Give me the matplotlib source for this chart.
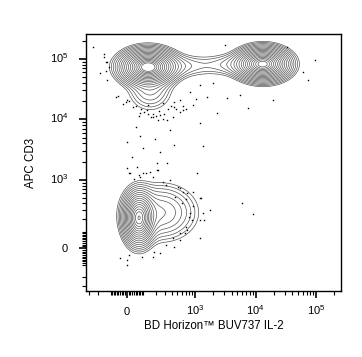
"""Flow cytometry contour plot: IL-2 vs CD3 on biexponential-like axes."""

import matplotlib

matplotlib.use("Agg")
import matplotlib.pyplot as plt  # noqa: E402
import matplotlib.transforms as mtransforms  # noqa: E402
import numpy as np  # noqa: E402

plt.rcParams["font.family"] = ["Liberation Sans", "DejaVu Sans"]
plt.rcParams["mathtext.default"] = "regular"

# arcsinh cofactor for the display scale
COFACTOR = 150.0

# axis ranges (data units)
X_RANGE = [-340, 2.57e5]
Y_RANGE = [-369, 2.57e5]

# population components: centre (data units), spread (arcsinh units), weight
# core + halo for each of the three populations
POP_X = [133, 380, 150, 13200, 5500, 70, 250]
POP_Y = [73000, 76000, 30000, 82000, 80000, 210, 270]
POP_SX = [0.50, 0.90, 0.45, 0.48, 0.80, 0.28, 0.70]
POP_SY = [0.32, 0.25, 0.42, 0.30, 0.24, 0.48, 0.55]
POP_W = [1.0, 0.06, 0.07, 0.95, 0.06, 0.80, 0.13]

# outlier events drawn as dots (data units)
DOT_X = [-252, -147, -125, -183, -125, -65, 0, 34, 77, 126, 173, 240, 327, 428,
         560, 620, 375, 222, 133, 277, 1200, 1560, 2290, 3350, 5520, 7450,
         19300, 32800, 60300, 95600, 73000, 1970, 820, 1200, 3120,
         0, 77, 52, 192, 428, 240, 97, 29, 58, 97, 147, 211, 327, 1070, 1340,
         17, 0, 211, 77,
         560, 730, 915, 1200, 820, 1200, 1770, 730, 560, 1200, 428, 240, 173,
         90, 0, 0, -40, 680, 880, 1340, 600, 455, 5950, 9000,
         -54, -24, -6, 13, 52, 83, 106, 131, 171, 200, 235, 292, 335, 382, 442,
         473, 545, 617, 697, 906, 1025, 413, 274, 156, 73,
         -146, -133, -108, -133,
         510, 617, 697, 906, 790, 697, 545, 413, 309, 13, 187, 1230, 1410,
         13, 42, 73, 117, 171, 218, 274, 367, 309]
DOT_Y = [156000, 120000, 88000, 58000, 45000, 23300, 20800, 16000, 12700, 14300,
         10900, 11800, 9700, 16000, 20800, 14300, 6700, 9700, 17300, 18600, 8600,
         23300, 12700, 22400, 25300, 15400, 20800, 156000, 60400, 95600, 45000,
         39700, 28300, 37000, 169000,
         4200, 5300, 7500, 4700, 3760, 2870, 3350, 2370, 1630, 1290, 1340, 1450,
         1890, 1290, 3600, 1290, 1560, 1890, 1110,
         740, 590, 620, 500, 265, 190, 295, 110, 46, 57, 6, -29, -52, -52, -71,
         -104, -59, 90, 190, 265, 410, 520, 410, 255,
         24700, 18000, 19100, 20300, 16800, 14800, 13000, 12300, 12500, 11500,
         13900, 12300, 14800, 16800, 19100, 14800, 13000, 16800, 14800, 17500,
         21600, 10800, 10100, 10800, 11500,
         106000, 87000, 72000, 63500,
         760, 625, 465, 360, 225, 135, 88, 56, 17, -40, -21, 490, 190,
         1280, 1050, 1200, 1280, 1120, 1450, 930, 1000, 820]

X_LABEL = "BD Horizon\u2122 BUV737 IL-2"
Y_LABEL = "APC CD3"
MAJOR_TICKS = [0, 1e3, 1e4, 1e5]
MAJOR_LABELS = ["0", "$10^3$", "$10^4$", "$10^5$"]


def fwd(v):
    return np.arcsinh(np.asarray(v, dtype=float) / COFACTOR)


def inv(t):
    return COFACTOR * np.sinh(np.asarray(t, dtype=float))


def minor_ticks(lo, hi):
    vals = []
    for dec in [10, 100, 1000, 10000, 100000]:
        for m in range(1, 10):
            for s in (-1, 1):
                v = s * m * dec
                if lo <= v <= hi and v not in MAJOR_TICKS:
                    vals.append(v)
    return sorted(set(vals))


# density of the mixture evaluated on a grid in display (arcsinh) space
gu = np.linspace(fwd(X_RANGE[0]), fwd(X_RANGE[1]), 500)
gv = np.linspace(fwd(Y_RANGE[0]), fwd(Y_RANGE[1]), 500)
U, V = np.meshgrid(gu, gv)
Z = np.zeros_like(U)
for cx, cy, sx, sy, w in zip(POP_X, POP_Y, POP_SX, POP_SY, POP_W):
    Z += w * np.exp(-0.5 * (((U - fwd(cx)) / sx) ** 2 + ((V - fwd(cy)) / sy) ** 2))

fig = plt.figure(figsize=(3.62, 3.57), dpi=100)
ax = fig.add_axes([0.2376, 0.1849, 0.7044, 0.7199])
ax.set_xscale("function", functions=(fwd, inv))
ax.set_yscale("function", functions=(fwd, inv))

# rings evenly spaced in radius, like probability contours
radii = np.linspace(2.9, 0.5, 18)
levels = Z.max() * np.exp(-0.5 * radii ** 2)
ax.contour(inv(U), inv(V), Z, levels=levels, colors="#555555", linewidths=0.5)
ax.plot(DOT_X, DOT_Y, "s", color="black", ms=1.0, mew=0)

ax.set_xlim(X_RANGE)
ax.set_ylim(Y_RANGE)

for axis, rng in ((ax.xaxis, X_RANGE), (ax.yaxis, Y_RANGE)):
    axis.set_ticks(MAJOR_TICKS)
    axis.set_ticks(minor_ticks(*rng), minor=True)
    axis.set_ticklabels([])
ax.tick_params(which="major", direction="out", length=5, width=1.2, color="black")
ax.tick_params(which="minor", direction="out", length=3, width=0.8, color="black")
for sp in ax.spines.values():
    sp.set_linewidth(1.0)

# tick labels aligned on a common baseline
xt = mtransforms.blended_transform_factory(ax.transData, ax.transAxes)
yt = mtransforms.blended_transform_factory(ax.transAxes, ax.transData)
down = mtransforms.ScaledTranslation(0, -4 / 100, fig.dpi_scale_trans)
for val, lab in zip(MAJOR_TICKS, MAJOR_LABELS):
    ax.text(val, -0.093, lab, transform=xt, ha="center", va="baseline", fontsize=8)
    ax.text(-0.07, val, lab, transform=yt + down, ha="right", va="baseline", fontsize=8)

ax.text(0.5, -0.148, X_LABEL, transform=ax.transAxes, ha="center", va="baseline",
        fontsize=8.3)
ax.text(-0.216, 0.5, Y_LABEL, transform=ax.transAxes, ha="center", va="center",
        rotation=90, fontsize=8.3)

fig.savefig("out.png", dpi=100)
